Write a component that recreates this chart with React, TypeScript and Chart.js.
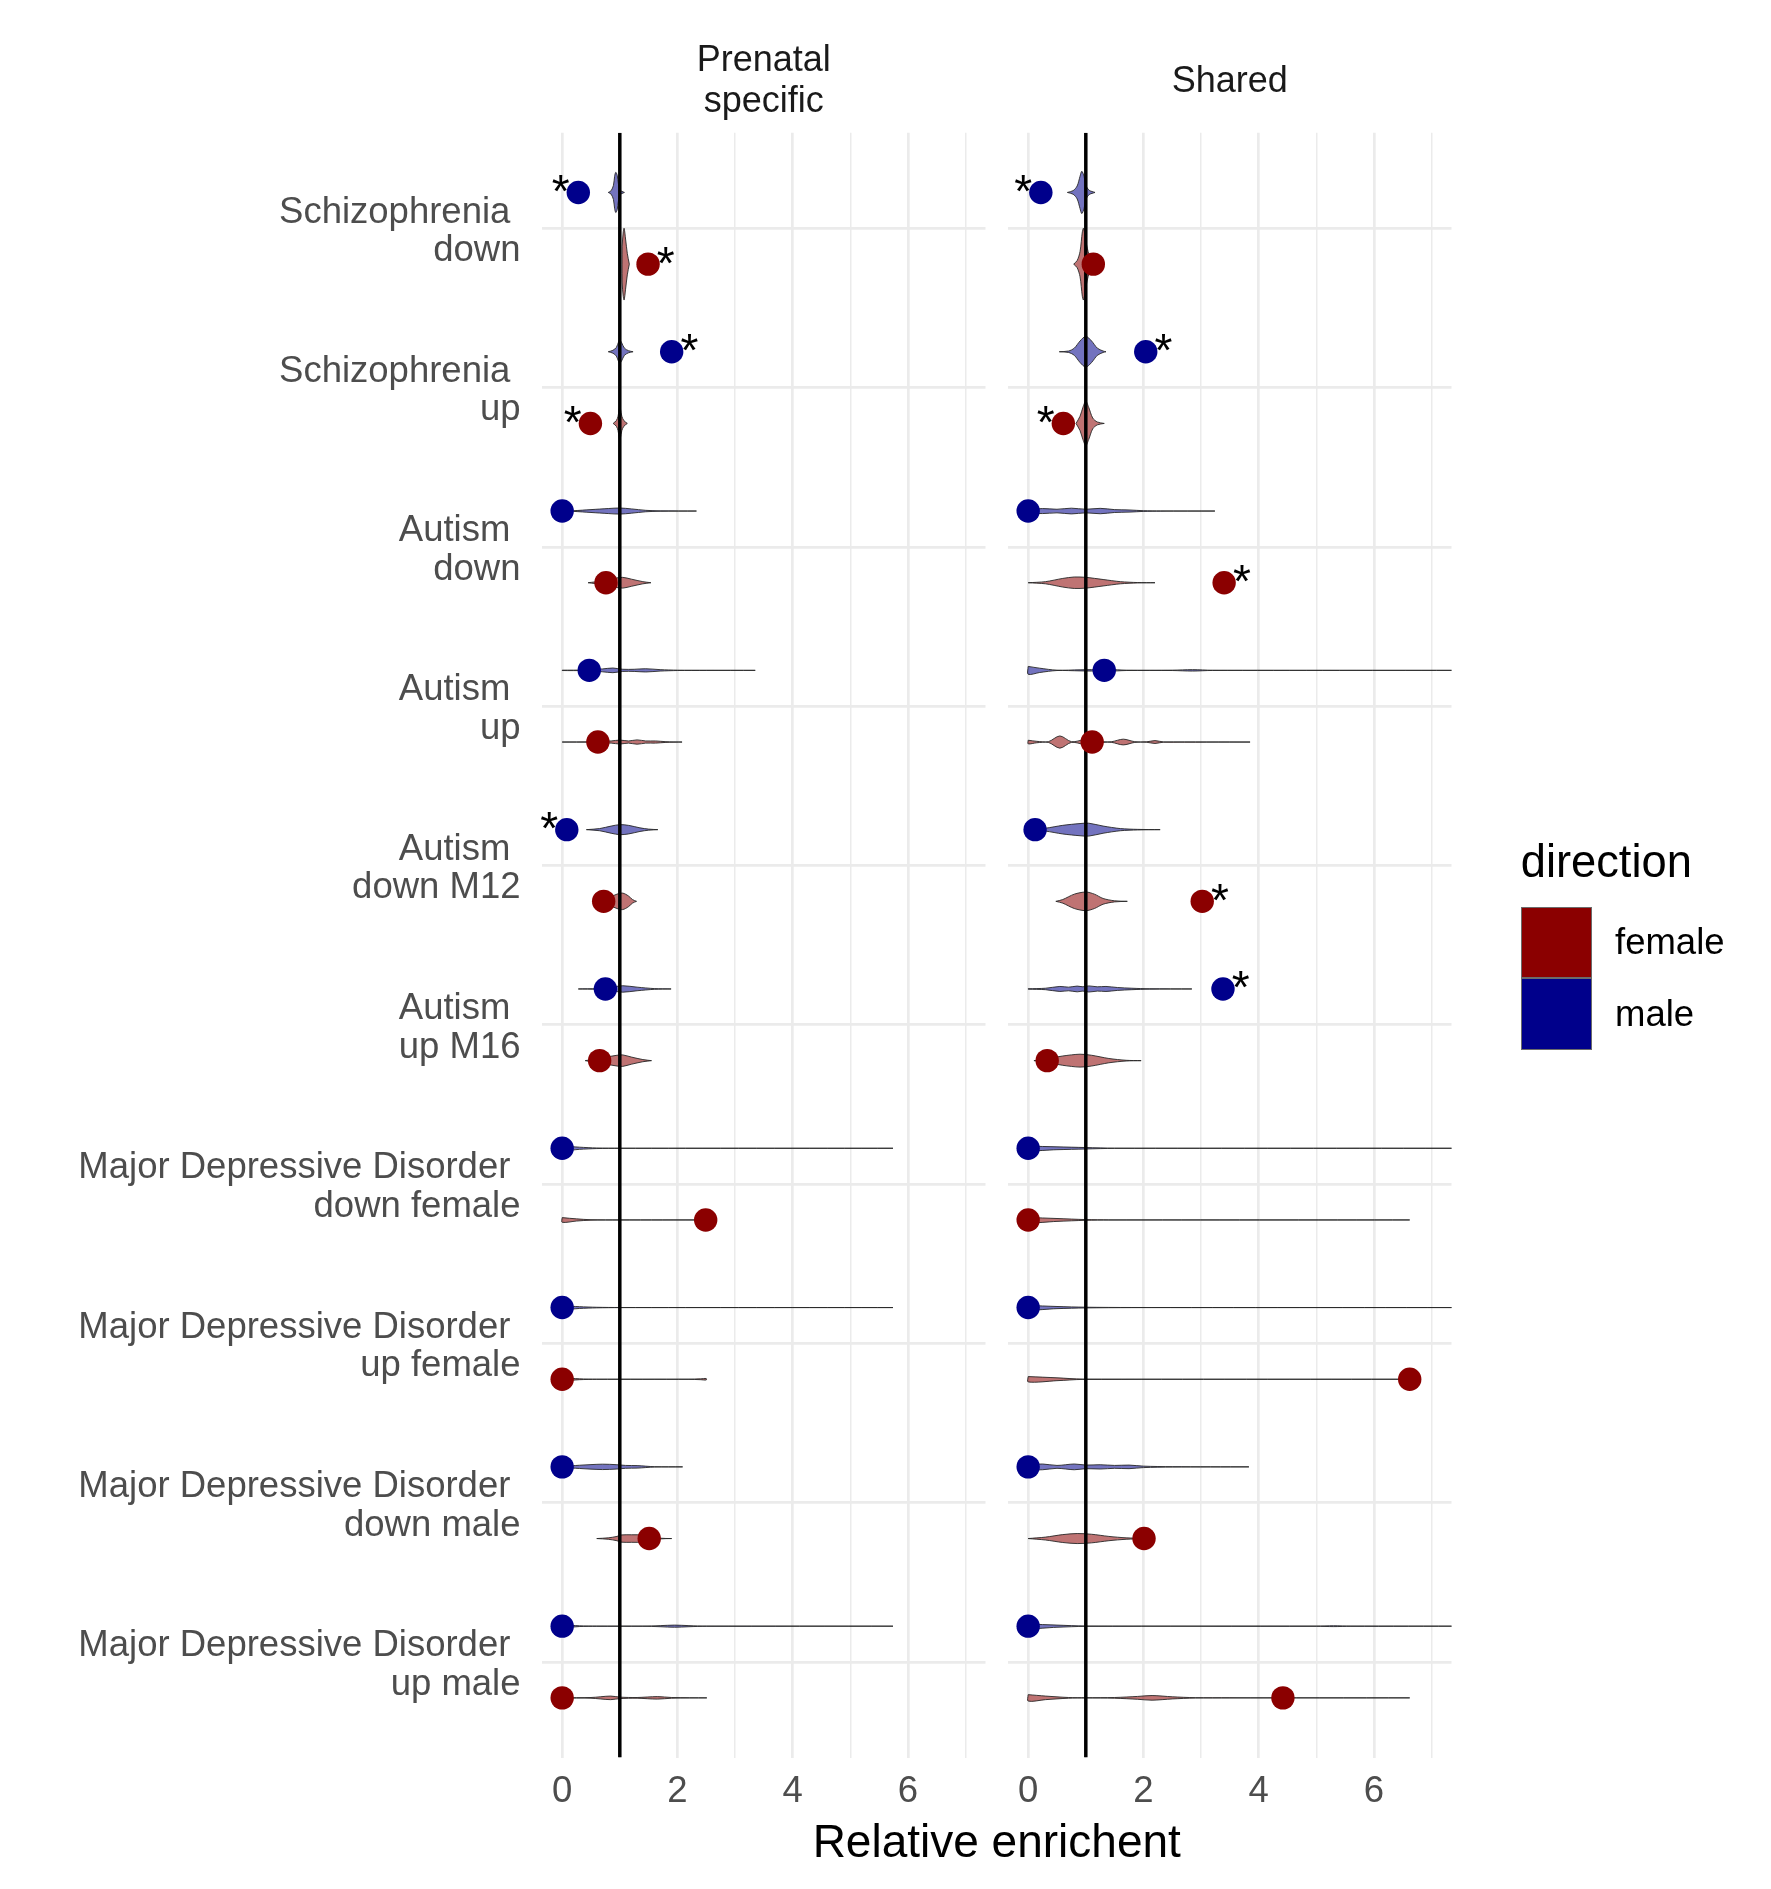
import React, { useEffect, useRef } from "react";
import { Chart, registerables } from "chart.js";

Chart.register(...registerables);

const FONT = "'Liberation Sans', Arial, Helvetica, sans-serif";
const W = 1771;
const H = 1889;
const PANEL_TOP = 132.7;
const PANEL_BOTTOM = 1757.6;
const PANEL1 = [542, 985.5];
const PANEL2 = [1008, 1451.5];
const X_MIN = -0.35;
const X_MAX = 7.345;
const DODGE = 0.225;
const VIOLIN_HALF = 0.225;

// ---------- data ----------
const categories: string[][] = [
  ["Schizophrenia ", "down"],
  ["Schizophrenia ", "up"],
  ["Autism ", "down"],
  ["Autism ", "up"],
  ["Autism ", "down M12"],
  ["Autism ", "up M16"],
  ["Major Depressive Disorder ", "down female"],
  ["Major Depressive Disorder ", "up female"],
  ["Major Depressive Disorder ", "down male"],
  ["Major Depressive Disorder ", "up male"],
];

const facetTitles = [["Prenatal", "specific"], ["Shared"]];
const xTickValues = [0, 1, 2, 3, 4, 5, 6, 7];
const referenceLine = [1];

const prenatalMale = [0.28, 1.9, 0.0, 0.47, 0.08, 0.75, 0.0, 0.0, 0.0, 0.0];
const prenatalFemale = [1.49, 0.49, 0.76, 0.62, 0.72, 0.65, 2.49, 0.0, 1.51, 0.0];
const sharedMale = [0.22, 2.04, 0.0, 1.32, 0.12, 3.38, 0.0, 0.0, 0.0, 0.0];
const sharedFemale = [1.13, 0.61, 3.4, 1.11, 3.02, 0.33, 0.0, 6.62, 2.01, 4.42];

const prenatalMaleSig = [true, true, false, false, true, false, false, false, false, false];
const prenatalFemaleSig = [true, true, false, false, false, false, false, false, false, false];
const sharedMaleSig = [true, true, false, false, false, true, false, false, false, false];
const sharedFemaleSig = [false, true, true, false, true, false, false, false, false, false];

// violin profiles: [x, relative half-width]
const prenatalMaleViolins: number[][][] = [
  [[0.8, 0], [0.85, 0.05], [0.89, 0.2], [0.91, 0.45], [0.93, 0.56], [0.955, 0.48], [0.975, 0.25], [1.0, 0.07], [1.08, 0]],
  [[0.8, 0], [0.88, 0.04], [0.94, 0.12], [0.98, 0.28], [1.0, 0.32], [1.03, 0.26], [1.08, 0.1], [1.15, 0.03], [1.23, 0]],
  [[0, 0], [0.2, 0.01], [0.5, 0.04], [0.8, 0.07], [1.0, 0.085], [1.2, 0.06], [1.45, 0.02], [1.7, 0.005], [2.33, 0]],
  [[0, 0.005], [0.4, 0.01], [0.7, 0.04], [0.88, 0.065], [1.05, 0.03], [1.25, 0.03], [1.45, 0.045], [1.7, 0.02], [2.0, 0.005], [2.5, 0.002], [3.35, 0]],
  [[0.42, 0], [0.65, 0.03], [0.85, 0.1], [1.0, 0.14], [1.15, 0.12], [1.35, 0.05], [1.5, 0.015], [1.66, 0]],
  [[0.28, 0], [0.6, 0.01], [0.85, 0.05], [1.05, 0.09], [1.3, 0.05], [1.6, 0.01], [1.89, 0]],
  [[0, 0.06], [0.3, 0.03], [0.6, 0.008], [1.0, 0.002], [5.74, 0]],
  [[0, 0.05], [0.3, 0.025], [0.6, 0.008], [1.0, 0.002], [5.74, 0]],
  [[0, 0.01], [0.3, 0.045], [0.7, 0.075], [0.95, 0.06], [1.1, 0.04], [1.3, 0.035], [1.6, 0.005], [2.09, 0]],
  [[0, 0.04], [0.3, 0.01], [0.6, 0.002], [1.4, 0.002], [1.7, 0.015], [1.95, 0.03], [2.2, 0.015], [2.5, 0.002], [5.74, 0]],
];
const prenatalFemaleViolins: number[][][] = [
  [[1.04, 0.5], [1.06, 0.9], [1.075, 1.0], [1.1, 0.7], [1.13, 0.3], [1.165, 0]],
  [[0.885, 0], [0.94, 0.08], [0.97, 0.2], [0.99, 0.42], [1.0, 0.5], [1.01, 0.42], [1.035, 0.2], [1.07, 0.08], [1.13, 0]],
  [[0.45, 0], [0.7, 0.05], [0.9, 0.12], [1.05, 0.15], [1.2, 0.1], [1.4, 0.03], [1.54, 0]],
  [[0, 0], [0.5, 0.005], [0.85, 0.03], [1.0, 0.055], [1.15, 0.03], [1.3, 0.06], [1.45, 0.03], [1.62, 0.03], [1.8, 0.01], [2.08, 0]],
  [[0.6, 0], [0.8, 0.1], [0.95, 0.2], [1.05, 0.23], [1.15, 0.15], [1.22, 0.05], [1.29, 0]],
  [[0.4, 0], [0.7, 0.08], [0.95, 0.15], [1.05, 0.16], [1.2, 0.1], [1.4, 0.03], [1.55, 0]],
  [[0, 0.065], [0.25, 0.03], [0.5, 0.006], [1.0, 0.001], [2.49, 0]],
  [[0, 0.04], [0.3, 0.012], [0.6, 0.002], [2.2, 0.002], [2.4, 0.012], [2.5, 0.02]],
  [[0.6, 0], [0.8, 0.02], [0.95, 0.06], [1.02, 0.1], [1.2, 0.105], [1.4, 0.1], [1.55, 0.06], [1.7, 0.01], [1.9, 0]],
  [[0, 0.005], [0.5, 0.01], [0.84, 0.05], [1.0, 0.02], [1.3, 0.01], [1.65, 0.035], [1.9, 0.01], [2.51, 0]],
];
const sharedMaleViolins: number[][][] = [
  [[0.68, 0], [0.78, 0.05], [0.85, 0.18], [0.9, 0.45], [0.93, 0.59], [0.97, 0.45], [1.0, 0.2], [1.06, 0.06], [1.16, 0]],
  [[0.54, 0], [0.7, 0.02], [0.8, 0.1], [0.9, 0.3], [1.0, 0.43], [1.1, 0.3], [1.2, 0.1], [1.3, 0.02], [1.35, 0]],
  [[0, 0.04], [0.25, 0.07], [0.5, 0.05], [0.75, 0.08], [1.0, 0.05], [1.25, 0.075], [1.5, 0.04], [1.75, 0.03], [2.0, 0.01], [2.3, 0.003], [3.24, 0]],
  [[0, 0.11], [0.2, 0.06], [0.5, 0.005], [0.9, 0.015], [1.1, 0.02], [1.4, 0.025], [1.7, 0.005], [2.5, 0.005], [2.85, 0.02], [3.2, 0.003], [7.6, 0]],
  [[0, 0], [0.3, 0.04], [0.6, 0.12], [0.9, 0.17], [1.05, 0.18], [1.3, 0.1], [1.6, 0.03], [1.9, 0.008], [2.29, 0]],
  [[0, 0.005], [0.3, 0.02], [0.55, 0.07], [0.7, 0.05], [0.85, 0.08], [0.95, 0.06], [1.05, 0.085], [1.2, 0.06], [1.35, 0.07], [1.55, 0.04], [1.8, 0.02], [2.1, 0.005], [2.84, 0]],
  [[0, 0.06], [0.5, 0.04], [1.0, 0.02], [1.5, 0.003], [7.6, 0]],
  [[0, 0.06], [0.5, 0.03], [1.0, 0.01], [1.8, 0.002], [7.6, 0]],
  [[0, 0.06], [0.25, 0.08], [0.5, 0.04], [0.8, 0.08], [1.0, 0.05], [1.25, 0.06], [1.5, 0.04], [1.75, 0.05], [2.0, 0.02], [2.5, 0.005], [3.83, 0]],
  [[0, 0.06], [0.5, 0.03], [1.0, 0.005], [5.0, 0.002], [5.3, 0.012], [5.6, 0.002], [7.6, 0]],
];
const sharedFemaleViolins: number[][][] = [
  [[0.79, 0], [0.85, 0.1], [0.9, 0.35], [0.94, 0.9], [0.96, 1.0], [0.99, 0.75], [1.04, 0.35], [1.1, 0.1], [1.15, 0]],
  [[0.83, 0], [0.9, 0.2], [0.95, 0.45], [1.0, 0.62], [1.05, 0.45], [1.12, 0.15], [1.2, 0.04], [1.32, 0]],
  [[0, 0], [0.3, 0.03], [0.6, 0.12], [0.8, 0.16], [1.0, 0.15], [1.3, 0.09], [1.6, 0.03], [1.9, 0.005], [2.2, 0]],
  [[0, 0.05], [0.15, 0.02], [0.35, 0.01], [0.55, 0.17], [0.75, 0.01], [0.95, 0.06], [1.1, 0.1], [1.3, 0.01], [1.45, 0.01], [1.65, 0.08], [1.85, 0.01], [2.05, 0.005], [2.2, 0.04], [2.35, 0.003], [3.85, 0]],
  [[0.48, 0], [0.6, 0.05], [0.8, 0.2], [1.0, 0.26], [1.15, 0.2], [1.3, 0.08], [1.5, 0.015], [1.72, 0]],
  [[0.1, 0], [0.35, 0.06], [0.6, 0.13], [0.9, 0.18], [1.1, 0.15], [1.4, 0.06], [1.7, 0.01], [1.96, 0]],
  [[0, 0.07], [0.5, 0.04], [1.0, 0.01], [1.4, 0.002], [6.62, 0]],
  [[0, 0.075], [0.5, 0.04], [0.95, 0.005], [6.62, 0]],
  [[0, 0], [0.3, 0.04], [0.6, 0.11], [0.85, 0.14], [1.1, 0.12], [1.4, 0.06], [1.7, 0.02], [2.0, 0.005]],
  [[0, 0.09], [0.3, 0.05], [0.7, 0.01], [1.0, 0.003], [1.5, 0.01], [1.9, 0.04], [2.15, 0.065], [2.5, 0.03], [2.9, 0.005], [3.5, 0.002], [6.62, 0]],
];

// ---------- styles ----------
const FEMALE = "#8B0000";
const MALE = "#00008B";
const FEMALE_FILL = "rgba(139,0,0,0.55)";
const MALE_FILL = "rgba(0,0,139,0.55)";
const GRID = "#EBEBEB";

type Panel = {
  male: number[];
  female: number[];
  maleSig: boolean[];
  femaleSig: boolean[];
  maleViolins: number[][][];
  femaleViolins: number[][][];
};

const panels: Panel[] = [
  { male: prenatalMale, female: prenatalFemale, maleSig: prenatalMaleSig, femaleSig: prenatalFemaleSig, maleViolins: prenatalMaleViolins, femaleViolins: prenatalFemaleViolins },
  { male: sharedMale, female: sharedFemale, maleSig: sharedMaleSig, femaleSig: sharedFemaleSig, maleViolins: sharedMaleViolins, femaleViolins: sharedFemaleViolins },
];

function violinPath(profile: number[][], center: number) {
  const top = profile.map(([x, d]) => ({ x, y: center - d * VIOLIN_HALF }));
  const bottom = profile
    .slice()
    .reverse()
    .map(([x, d]) => ({ x, y: center + d * VIOLIN_HALF }));
  return [...top, ...bottom, top[0]];
}

const starPlugin = {
  id: "stars",
  afterDatasetsDraw(chart: any, _args: any, opts: any) {
    const panel: Panel = opts.panel;
    const xs = chart.scales.x;
    const ys = chart.scales.y;
    const ctx = chart.ctx;
    ctx.save();
    ctx.fillStyle = "#000";
    ctx.font = `46px ${FONT}`;
    ctx.textAlign = "center";
    ctx.textBaseline = "alphabetic";
    const m = ctx.measureText("*");
    const shift = (m.actualBoundingBoxAscent - m.actualBoundingBoxDescent) / 2;
    const draw = (vals: number[], sig: boolean[], off: number) => {
      vals.forEach((v, i) => {
        if (!sig[i]) return;
        const px = xs.getPixelForValue(v);
        const py = ys.getPixelForValue(i + 1 + off);
        const dx = v < 1 ? -17.7 : 17.7;
        ctx.fillText("*", px + dx, py - 9 + shift);
      });
    };
    draw(panel.male, panel.maleSig, -DODGE);
    draw(panel.female, panel.femaleSig, DODGE);
    ctx.restore();
  },
};

function buildConfig(panel: Panel, idx: number): any {
  const [left, right] = idx === 0 ? PANEL1 : PANEL2;
  const datasets: any[] = [];
  categories.forEach((_, i) => {
    const c = i + 1;
    datasets.push({
      type: "line",
      data: violinPath(panel.maleViolins[i], c - DODGE),
      borderColor: "rgba(40,40,40,0.9)",
      borderWidth: 1,
      backgroundColor: MALE_FILL,
      fill: "shape",
      pointRadius: 0,
      tension: 0.3,
      order: 3,
    });
    datasets.push({
      type: "line",
      data: violinPath(panel.femaleViolins[i], c + DODGE),
      borderColor: "rgba(40,40,40,0.9)",
      borderWidth: 1,
      backgroundColor: FEMALE_FILL,
      fill: "shape",
      pointRadius: 0,
      tension: 0.3,
      order: 3,
    });
  });
  referenceLine.forEach((v) => {
    datasets.push({
      type: "line",
      data: [
        { x: v, y: 0.4 },
        { x: v, y: categories.length + 0.6 },
      ],
      borderColor: "#000",
      borderWidth: 3.5,
      pointRadius: 0,
      fill: false,
      order: 1,
    });
  });
  datasets.push({
    type: "scatter",
    data: panel.male.map((v, i) => ({ x: v, y: i + 1 - DODGE })),
    backgroundColor: MALE,
    borderWidth: 0,
    pointRadius: 11.7,
    order: 0,
  });
  datasets.push({
    type: "scatter",
    data: panel.female.map((v, i) => ({ x: v, y: i + 1 + DODGE })),
    backgroundColor: FEMALE,
    borderWidth: 0,
    pointRadius: 11.7,
    order: 0,
  });

  return {
    type: "scatter",
    data: { datasets },
    plugins: [starPlugin],
    options: {
      animation: false,
      responsive: false,
      devicePixelRatio: 1,
      events: [],
      layout: { padding: { left: 0, right: W - right, top: PANEL_TOP, bottom: 0 } },
      plugins: {
        legend: { display: false },
        tooltip: { enabled: false },
        title: { display: false },
        stars: { panel },
      },
      scales: {
        x: {
          type: "linear",
          min: X_MIN,
          max: X_MAX,
          afterBuildTicks: (s: any) => {
            s.ticks = xTickValues.map((v) => ({ value: v }));
          },
          afterFit: (s: any) => {
            s.height = H - PANEL_BOTTOM;
          },
          ticks: {
            autoSkip: false,
            maxRotation: 0,
            padding: 12,
            color: "#4D4D4D",
            font: { family: FONT, size: 36.5 },
            callback: (v: number) => (v % 2 === 0 ? String(v) : ""),
          },
          grid: {
            color: GRID,
            drawTicks: false,
            lineWidth: (ctx: any) => (ctx.tick && ctx.tick.value % 2 === 0 ? 2.7 : 1.5),
          },
          border: { display: false },
        },
        y: {
          type: "linear",
          min: 0.4,
          max: categories.length + 0.6,
          reverse: true,
          afterBuildTicks: (s: any) => {
            s.ticks = categories.map((_, i) => ({ value: i + 1 }));
          },
          afterFit: (s: any) => {
            s.width = left;
          },
          ticks: {
            display: idx === 0,
            autoSkip: false,
            padding: 21.5,
            labelOffset: 3.5,
            crossAlign: "near",
            color: "#4D4D4D",
            font: { family: FONT, size: 36.5, lineHeight: 1.057 },
            callback: (v: number) => categories[Math.round(v) - 1],
          },
          grid: { color: GRID, drawTicks: false, lineWidth: 2.7 },
          border: { display: false },
        },
      },
    },
  };
}

function PanelCanvas({ idx }: { idx: number }) {
  const ref = useRef<HTMLCanvasElement | null>(null);
  useEffect(() => {
    if (!ref.current) return;
    const chart = new Chart(ref.current, buildConfig(panels[idx], idx));
    return () => chart.destroy();
  }, [idx]);
  return (
    <canvas
      ref={ref}
      width={W}
      height={H}
      style={{ position: "absolute", left: 0, top: 0, width: W, height: H }}
    />
  );
}

const text = (extra: React.CSSProperties): React.CSSProperties => ({
  position: "absolute",
  fontFamily: FONT,
  whiteSpace: "nowrap",
  ...extra,
});

export default function App() {
  return (
    <div
      style={{
        position: "fixed",
        left: 0,
        top: 0,
        width: W,
        height: H,
        background: "#fff",
        overflow: "hidden",
      }}
    >
      <PanelCanvas idx={0} />
      <PanelCanvas idx={1} />
      {/* facet titles */}
      <div
        style={text({
          left: PANEL1[0],
          width: PANEL1[1] - PANEL1[0],
          top: 37.5,
          textAlign: "center",
          fontSize: 36,
          lineHeight: "41.5px",
          color: "#1A1A1A",
        })}
      >
        {facetTitles[0].map((t) => (
          <div key={t}>{t}</div>
        ))}
      </div>
      <div
        style={text({
          left: PANEL2[0],
          width: PANEL2[1] - PANEL2[0],
          top: 58.5,
          textAlign: "center",
          fontSize: 36,
          lineHeight: "41.5px",
          color: "#1A1A1A",
        })}
      >
        {facetTitles[1].map((t) => (
          <div key={t}>{t}</div>
        ))}
      </div>
      {/* x axis title */}
      <div
        style={text({
          left: PANEL1[0],
          width: PANEL2[1] - PANEL1[0],
          top: 1817.8,
          textAlign: "center",
          fontSize: 46,
          lineHeight: "46px",
          color: "#000",
        })}
      >
        Relative enrichent
      </div>
      {/* legend */}
      <div style={text({ left: 1520.7, top: 839, fontSize: 45.3, lineHeight: "45.3px", color: "#000" })}>
        direction
      </div>
      <div
        style={{
          position: "absolute",
          left: 1520.7,
          top: 906.7,
          width: 71.3,
          height: 71.6,
          background: FEMALE,
          boxSizing: "border-box",
          border: "1px solid #6b6b6b",
        }}
      />
      <div
        style={{
          position: "absolute",
          left: 1520.7,
          top: 978.3,
          width: 71.3,
          height: 71.6,
          background: MALE,
          boxSizing: "border-box",
          border: "1px solid #6b6b6b",
        }}
      />
      <div style={text({ left: 1615, top: 924.1, fontSize: 36.5, lineHeight: "36.5px", color: "#000" })}>
        female
      </div>
      <div style={text({ left: 1615, top: 995.8, fontSize: 36.5, lineHeight: "36.5px", color: "#000" })}>
        male
      </div>
    </div>
  );
}
